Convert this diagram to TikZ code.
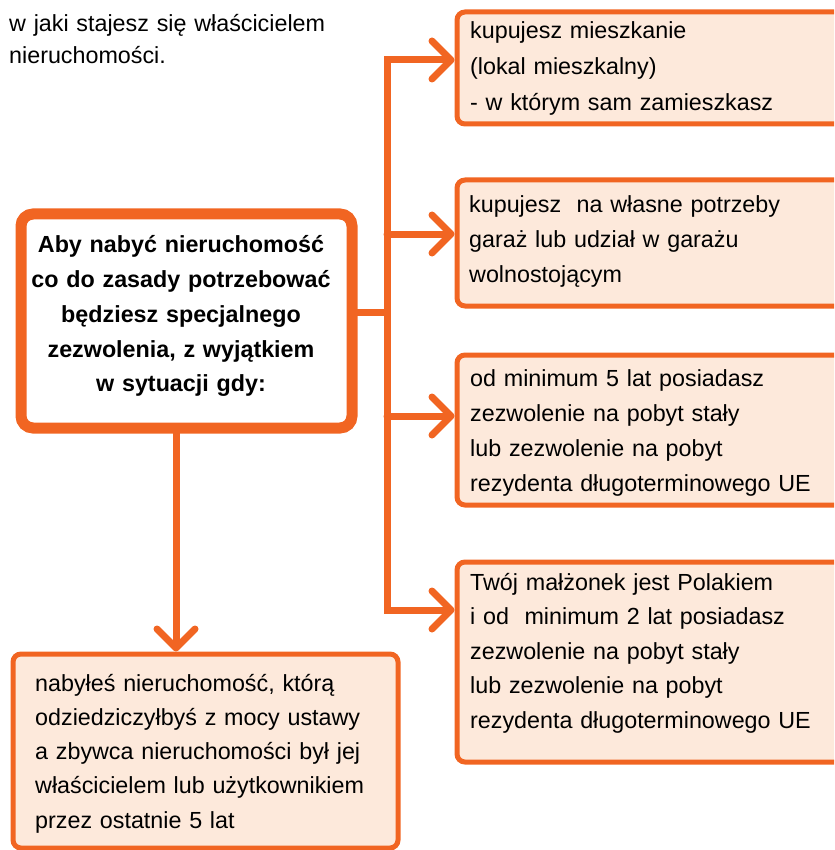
\documentclass[tikz,border=0pt]{standalone}
\usepackage{fontspec}
\setmainfont{Liberation Sans}
\usetikzlibrary{arrows.meta}
\definecolor{orng}{RGB}{241,101,34}
\definecolor{peach}{RGB}{253,233,219}
\begin{document}
\begin{tikzpicture}[x=1pt,y=-1pt,
  barb/.tip={Straight Barb[length=19pt,width=38pt,round]},
  conn/.style={draw=orng,line width=7pt,line cap=round,line join=miter},
  mainbox/.style={draw=orng,fill=white,line width=11pt,rounded corners=12pt,
    rectangle,anchor=north west,inner sep=0pt},
  optbox/.style={draw=orng,fill=peach,line width=5pt,rounded corners=8pt,
    rectangle,anchor=north west,inner sep=0pt},
  txt/.style={font=\fontsize{23.3pt}{35pt}\selectfont,inner sep=0pt,align=left,
    text width=370pt,anchor=base west},
  btxt/.style={font=\bfseries\fontsize{23.3pt}{34.8pt}\selectfont,inner sep=0pt,
    align=center,text width=340pt,anchor=base}]
\useasboundingbox (0,0) rectangle (834,850);
\clip (0,0) rectangle (834,850);

% boxes
\node[mainbox,minimum width=331pt,minimum height=214pt] (m) at (15.5,208.5) {};
\node[optbox,minimum width=480pt,minimum height=112pt] (b1) at (454.5,9.5) {};
\node[optbox,minimum width=480pt,minimum height=126pt] (b2) at (454.5,177.5) {};
\node[optbox,minimum width=480pt,minimum height=150pt] (b3) at (454.5,352.5) {};
\node[optbox,minimum width=480pt,minimum height=200pt] (b4) at (454.5,559.5) {};
\node[optbox,minimum width=385pt,minimum height=194pt] (bb) at (10.5,651.5) {};

% texts
\node[txt,font=\fontsize{23.3pt}{31.6pt}\selectfont] (top) at (9,31.7)
  {w jaki stajesz się właścicielem\\nieruchomości.};
\node[btxt] (mt) at (181,252.7)
  {Aby nabyć nieruchomość\\co do zasady potrzebować\\będziesz specjalnego\\zezwolenia, z wyjątkiem\\w sytuacji gdy:};
\node[txt,font=\fontsize{23.3pt}{36pt}\selectfont] (t1) at (470,38.3)
  {kupujesz mieszkanie\\(lokal mieszkalny)\\- w którym sam zamieszkasz};
\node[txt] (t2) at (469,212)
  {kupujesz\ \ na własne potrzeby\\garaż lub udział w garażu\\wolnostojącym};
\node[txt] (t3) at (470,386)
  {od minimum 5 lat posiadasz\\zezwolenie na pobyt stały\\lub zezwolenie na pobyt\\rezydenta długoterminowego UE};
\node[txt,font=\fontsize{23.3pt}{34.5pt}\selectfont] (t4) at (470,590)
  {Twój małżonek jest Polakiem\\i od\ \ minimum 2 lat posiadasz\\zezwolenie na pobyt stały\\lub zezwolenie na pobyt\\rezydenta długoterminowego UE};
\node[txt,font=\fontsize{23.3pt}{34.3pt}\selectfont] (tb) at (35,691)
  {nabyłeś nieruchomość, którą\\odziedziczyłbyś z mocy ustawy\\a zbywca nieruchomości był jej\\właścicielem lub użytkownikiem\\przez ostatnie 5 lat};

% connectors
\coordinate (j1) at (387,60);
\coordinate (j2) at (387,234);
\coordinate (j3) at (387,416);
\coordinate (j4) at (387,610);
\coordinate (jm) at (387,312);
\coordinate (d) at (176,0);
\draw[conn,{barb}-{barb}] (j1 -| b1.west) -- (j1) -- (j4) -- (j4 -| b4.west);
\draw[conn,-{barb}] (j2) -- (j2 -| b2.west);
\draw[conn,-{barb}] (j3) -- (j3 -| b3.west);
\draw[conn] (m.east |- jm) -- (jm);
\draw[conn,-{barb}] (m.south -| d) -- (bb.north -| d);
\end{tikzpicture}
\end{document}
